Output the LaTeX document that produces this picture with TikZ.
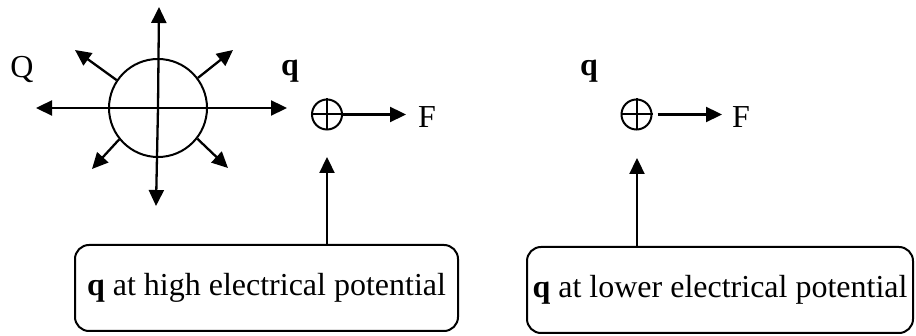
\documentclass[tikz,border=0pt]{standalone}
\usepackage{fontspec}
\setmainfont{Liberation Serif}
\usetikzlibrary{arrows.meta}
\tikzset{
  ln/.style={line width=2.3pt},
  arr/.style={ln, -{Triangle[length=16pt,width=15pt]}},
  ring/.style={circle, draw, line width=2pt, inner sep=0pt},
  pbox/.style={draw, line width=2pt, rounded corners=14pt, inner sep=0pt, align=center},
  lbl/.style={inner sep=0pt, font=\fontsize{32}{36}\selectfont}
}
\begin{document}
\begin{tikzpicture}[x=1pt,y=-1pt]
\useasboundingbox (0,0) rectangle (916,336);
\fontsize{32}{36}\selectfont
% big charge Q
\node[ring, minimum size=98pt] (Q0) at (158,108) {};
\coordinate (tT) at (159,7);
\coordinate (tB) at (156,206);
\coordinate (tL) at (36,108);
\coordinate (tR) at (287,108);
\coordinate (tUL) at (75,50);
\coordinate (tUR) at (233,50);
\coordinate (tLL) at (92,169);
\coordinate (tLR) at (228,168);
\draw[arr] (Q0.center) -- (tT);
\draw[arr] (Q0.center) -- (tB);
\draw[arr] (Q0.center) -- (tL);
\draw[arr] (Q0.center) -- (tR);
\draw[arr] (Q0.146) -- (tUL);
\draw[arr] (Q0.37) -- (tUR);
\draw[arr] (Q0.219) -- (tLL);
\draw[arr] (Q0.322) -- (tLR);
\node[lbl, anchor=base] (Qlbl) at (22,78) {Q};
% left test charge
\node[lbl, anchor=base] (q1) at (290,76) {\textbf{q}};
\node[ring, minimum size=30pt] (c1) at (327,114.5) {};
\draw[line width=2pt] (c1.north) -- (c1.south) (c1.west) -- (c1.east);
\node[lbl, anchor=west, inner xsep=12pt] (F1) at (406,117) {F};
\draw[arr] (c1.east) -- (c1.east -| F1.west);
% right test charge
\node[lbl, anchor=base] (q2) at (589,76) {\textbf{q}};
\node[ring, minimum size=30pt] (c2) at (636.5,114.5) {};
\draw[line width=2pt] (c2.north) -- (c2.south) (c2.west) -- (c2.east);
\node[lbl, anchor=west, inner xsep=10pt] (F2) at (722,117) {F};
\draw[arr, shorten <=5pt] (c2.east) -- (c2.east -| F2.west);
% boxes
\node[pbox, minimum width=383pt, minimum height=86pt] (b1) at (266.5,288) {\textbf{q} at high electrical potential};
\node[pbox, minimum width=386pt, minimum height=86pt] (b2) at (720,290) {\textbf{q} at lower electrical potential};
\coordinate (u1) at (327,157);
\coordinate (u2) at (637,158);
\draw[arr] (b1.north -| u1) -- (u1);
\draw[arr] (b2.north -| u2) -- (u2);
\end{tikzpicture}
\end{document}
